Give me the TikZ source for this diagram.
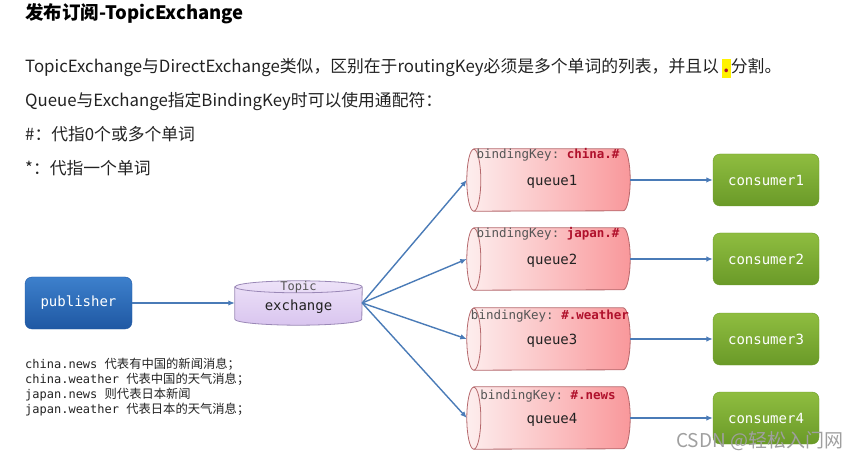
\documentclass[tikz,border=0pt]{standalone}
\usepackage{fontspec}
\setmainfont{Noto Sans CJK SC}
\setmonofont{DejaVu Sans Mono}
\usetikzlibrary{arrows.meta}

\definecolor{pubtop}{HTML}{3D80CC}
\definecolor{pubbot}{HTML}{1F58A3}
\definecolor{contop}{HTML}{8FBD40}
\definecolor{conbot}{HTML}{6A9A28}
\definecolor{exlight}{HTML}{EDE2F8}
\definecolor{exfill}{HTML}{D9C5EF}
\definecolor{exdraw}{HTML}{9A88B6}
\definecolor{qleft}{HTML}{FDEEEE}
\definecolor{qright}{HTML}{F9989B}
\definecolor{qdraw}{HTML}{B5686C}
\definecolor{arrowblue}{HTML}{4A7BB7}
\definecolor{keyred}{HTML}{B0112C}
\definecolor{keygray}{HTML}{555555}
\definecolor{textgray}{HTML}{222222}
\definecolor{hilite}{HTML}{FFF200}

\begin{document}
\begin{tikzpicture}[x=1pt, y=1pt,
    txt/.style={anchor=west, inner sep=0pt, text=textgray, font=\fontsize{16.8}{19}\selectfont},
    box/.style={rounded corners=7pt, minimum width=107pt, minimum height=52pt, text=white, font=\ttfamily\fontsize{14}{16}\selectfont},
    pubbox/.style={box, top color=pubtop, bottom color=pubbot, draw=pubbot},
    conbox/.style={box, minimum width=106pt, top color=contop, bottom color=conbot, draw=conbot},
    exslot/.style={inner sep=0pt, minimum width=127pt, minimum height=44pt},
    qslot/.style={inner sep=0pt, minimum width=163pt, minimum height=62pt},
    exshape/.style={top color=exlight, bottom color=exfill, draw=exdraw, line width=0.8pt},
    qshape/.style={left color=qleft, right color=qright, draw=qdraw, line width=0.8pt},
    qend/.style={x radius=7pt, y radius=31pt},
    monotxt/.style={inner sep=0pt, text=textgray, font=\ttfamily\fontsize{14}{16}\selectfont},
    keytxt/.style={inner sep=0pt, text=keygray, font=\ttfamily\fontsize{12.5}{14}\selectfont},
    link/.style={arrowblue, line width=1.4pt, -{Latex[length=6.5pt,width=5.5pt]}}
  ]
        \useasboundingbox (0,0) rectangle (859,-462);

        \coordinate (P) at (78.5,-303);
        \coordinate (E) at (298.5,-303);
        \coordinate (Q1) at (548.5,-180);
        \coordinate (Q2) at (548.5,-259);
        \coordinate (Q3) at (548.5,-339);
        \coordinate (Q4) at (548.5,-418);
        \coordinate (C1) at (766,-180);
        \coordinate (C2) at (766,-259);
        \coordinate (C3) at (766,-339);
        \coordinate (C4) at (766,-418);

        \node [anchor=west, inner sep=0pt, font=\bfseries\fontsize{18.5}{20}\selectfont] (title) at (25,-14) {发布订阅-TopicExchange};
        \node [txt] (line1) at (25,-68) {TopicExchange与DirectExchange类似，区别在于routingKey必须是多个单词的列表，并且以\hspace{3pt}{\setlength{\fboxsep}{0pt}\colorbox{hilite}{\makebox[9pt]{\strut\textcolor{keyred}{\bfseries .}}}}分割。};
        \node [txt] (line2) at (25,-101) {Queue与Exchange指定BindingKey时可以使用通配符：};
        \node [txt] (line3) at (25,-134) {\#：代指0个或多个单词};
        \node [txt] (line4) at (25,-168) {*：代指一个单词};

        \node [pubbox] (pub) at (P) {publisher};

        \node [exslot] (ex) at (E) {};
        \path [exshape] ([yshift=-6pt]ex.north west) -- ([yshift=6pt]ex.south west)
          arc [start angle=180, end angle=360, x radius=63.5pt, y radius=6pt]
          -- ([yshift=-6pt]ex.north east)
          arc [start angle=0, end angle=180, x radius=63.5pt, y radius=6pt] -- cycle;
        \draw [exdraw, line width=0.8pt] ([yshift=-6pt]ex.north west) arc [start angle=180, end angle=360, x radius=63.5pt, y radius=6pt];
        \node [inner sep=0pt, text=keygray, font=\ttfamily\fontsize{12}{14}\selectfont] (extopic) at (298.5,-287) {Topic};
        \node [monotxt] (exname) at (298.5,-307) {exchange};

        \node [qslot] (q1) at (Q1) {};
        \node [qslot] (q2) at (Q2) {};
        \node [qslot] (q3) at (Q3) {};
        \node [qslot] (q4) at (Q4) {};
        \path [qshape] ([xshift=7pt]q1.north west) -- ([xshift=-7pt]q1.north east) arc [qend, start angle=90, end angle=-90] -- ([xshift=7pt]q1.south west) arc [qend, start angle=270, end angle=90] -- cycle;
        \draw [qdraw, line width=0.8pt] ([xshift=7pt]q1.south west) arc [qend, start angle=-90, end angle=90];
        \path [qshape] ([xshift=7pt]q2.north west) -- ([xshift=-7pt]q2.north east) arc [qend, start angle=90, end angle=-90] -- ([xshift=7pt]q2.south west) arc [qend, start angle=270, end angle=90] -- cycle;
        \draw [qdraw, line width=0.8pt] ([xshift=7pt]q2.south west) arc [qend, start angle=-90, end angle=90];
        \path [qshape] ([xshift=7pt]q3.north west) -- ([xshift=-7pt]q3.north east) arc [qend, start angle=90, end angle=-90] -- ([xshift=7pt]q3.south west) arc [qend, start angle=270, end angle=90] -- cycle;
        \draw [qdraw, line width=0.8pt] ([xshift=7pt]q3.south west) arc [qend, start angle=-90, end angle=90];
        \path [qshape] ([xshift=7pt]q4.north west) -- ([xshift=-7pt]q4.north east) arc [qend, start angle=90, end angle=-90] -- ([xshift=7pt]q4.south west) arc [qend, start angle=270, end angle=90] -- cycle;
        \draw [qdraw, line width=0.8pt] ([xshift=7pt]q4.south west) arc [qend, start angle=-90, end angle=90];

        \node [keytxt] (k1) at (548,-155) {bindingKey: \textcolor{keyred}{\bfseries china.\#}};
        \node [keytxt] (k2) at (548,-234) {bindingKey: \textcolor{keyred}{\bfseries japan.\#}};
        \node [keytxt] (k3) at (550,-316) {bindingKey: \textcolor{keyred}{\bfseries \#.weather}};
        \node [keytxt] (k4) at (548,-396) {bindingKey: \textcolor{keyred}{\bfseries \#.news}};
        \node [monotxt] (n1) at (552,-182) {queue1};
        \node [monotxt] (n2) at (552,-261) {queue2};
        \node [monotxt] (n3) at (552,-341) {queue3};
        \node [monotxt] (n4) at (552,-420) {queue4};

        \node [conbox] (c1) at (C1) {consumer1};
        \node [conbox] (c2) at (C2) {consumer2};
        \node [conbox] (c3) at (C3) {consumer3};
        \node [conbox] (c4) at (C4) {consumer4};

        \draw [link] (pub) to (ex.west);
        \draw [link] (ex.east) to (q1.west);
        \draw [link] (ex.east) to (q2.west);
        \draw [link] (ex.east) to (q3.west);
        \draw [link] (ex.east) to (q4.west);
        \draw [link] (q1.east) to (c1.west);
        \draw [link] (q2.east) to (c2.west);
        \draw [link] (q3.east) to (c3.west);
        \draw [link] (q4.east) to (c4.west);

        \node [anchor=north west, inner sep=0pt, align=left, text=textgray, font=\fontsize{12.3}{15}\selectfont] (notes) at (25,-358)
        {
          {\ttfamily\fontsize{12}{15}\selectfont china.news }代表有中国的新闻消息；\\
          {\ttfamily\fontsize{12}{15}\selectfont china.weather }代表中国的天气消息；\\
          {\ttfamily\fontsize{12}{15}\selectfont japan.news }则代表日本新闻\\
          {\ttfamily\fontsize{12}{15}\selectfont japan.weather }代表日本的天气消息；
        };

        \node [anchor=west, inner sep=0pt, text=gray!75, font=\fontsize{19}{20}\selectfont] (mark) at (676,-441) {CSDN @轻松入门网};
      \end{tikzpicture}
\end{document}
